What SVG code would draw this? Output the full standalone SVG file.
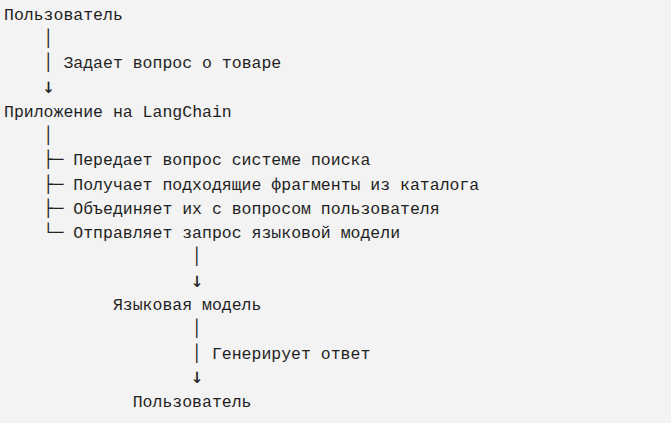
<svg xmlns="http://www.w3.org/2000/svg" width="671" height="423" viewBox="0 0 671 423">
<style>
text{font-family:"Liberation Mono","DejaVu Sans Mono",monospace;font-size:16.5px;fill:#1e1e1e;white-space:pre}
.b{font-family:"DejaVu Sans Mono",monospace}
.a{font-family:"DejaVu Sans Mono",monospace;font-size:21px}
#connectors,#node-app .b{opacity:0.99}
</style>
<rect width="671" height="423" fill="#f3f3f3"/>
<g id="node-user">
<text x="4" y="20">Пользователь</text>
</g>
<g id="node-app">
<text x="4" y="117">Приложение на LangChain</text>
<text x="43.6" y="165.4"><tspan class="b">├─</tspan><tspan x="63.4"> Передает вопрос системе поиска</tspan></text>
<text x="43.6" y="189.6"><tspan class="b">├─</tspan><tspan x="63.4"> Получает подходящие фрагменты из каталога</tspan></text>
<text x="43.6" y="213.8"><tspan class="b">├─</tspan><tspan x="63.4"> Объединяет их с вопросом пользователя</tspan></text>
<text x="43.6" y="238"><tspan class="b">└─</tspan><tspan x="63.4"> Отправляет запрос языковой модели</tspan></text>
</g>
<g id="node-llm">
<text x="112.9" y="310.2">Языковая модель</text>
</g>
<g id="node-user-2">
<text x="132.7" y="407.0">Пользователь</text>
</g>
<g id="connectors">
<text class="b" x="43.6" y="44.2">│</text>
<text class="b" x="43.6" y="68.4">│</text>
<text x="53.5" y="68.4"> Задает вопрос о товаре</text>
<text class="a" x="42.2" y="93">↓</text>
<text class="b" x="43.6" y="141.2">│</text>
<text class="b" x="192.1" y="262.2">│</text>
<text class="a" x="190.7" y="286.8">↓</text>
<text class="b" x="192.1" y="334.4">│</text>
<text class="b" x="192.1" y="358.6">│</text>
<text x="202" y="358.6"> Генерирует ответ</text>
<text class="a" x="190.7" y="383.2">↓</text>
</g>
</svg>
